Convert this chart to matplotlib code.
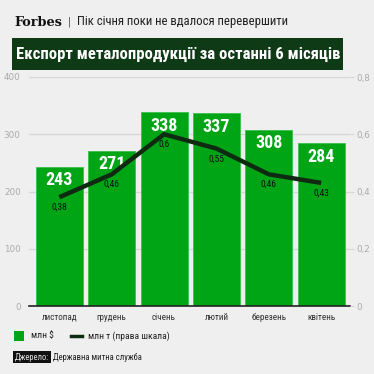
import matplotlib.pyplot as plt
from matplotlib.patches import Rectangle
from matplotlib.lines import Line2D

months = ["листопад", "грудень", "січень", "лютий", "березень", "квітень"]
usd = [243, 271, 338, 337, 308, 284]
tonnes = [0.38, 0.46, 0.6, 0.55, 0.46, 0.43]
left_ticks = [0, 100, 200, 300, 400]
right_ticks = [0, 0.2, 0.4, 0.6, 0.8]

BG = "#efefef"
GREEN = "#00a516"
DARK = "#0e2b12"
COND = ["Roboto Condensed", "Fira Sans Condensed", "DejaVu Sans"]

W = H = 374
fig = plt.figure(figsize=(3.74, 3.74), dpi=100, facecolor=BG)


def px(x, y):
    return x / W, 1 - y / H


# header
fig.text(*px(14, 22), "Forbes", family="DejaVu Serif", weight="bold",
         fontsize=9.3, va="center", color="#111")
fig.text(*px(68, 22), "|", fontsize=7, va="center", color="#444")
fig.text(*px(77, 22), "Пік січня поки не вдалося перевершити", family=COND,
         fontsize=9.2, va="center", color="#222")
fig.patches.append(Rectangle(px(12, 70), 331 / W, 32 / H, transform=fig.transFigure,
                             facecolor="#0f3a16", edgecolor="none"))
fig.text(*px(16, 54), "Експорт металопродукції за останні 6 місяців", family=COND,
         weight="bold", fontsize=12, va="center", color="white")

ax = fig.add_axes([29 / W, 1 - 306 / H, 321 / W, 229 / H])
ax.set_facecolor(BG)
x = range(len(months))
ax.bar(x, usd, width=0.9, color=GREEN, edgecolor="#3cc04a", linewidth=0.6, zorder=2)
for i, v in enumerate(usd):
    ax.text(i, v - 8, str(v), ha="center", va="top", color="white",
            family=COND, weight="bold", fontsize=13, zorder=5)
ax.set_xlim(-0.58, 5.55)
ax.set_ylim(0, 400)
ax.set_yticks(left_ticks)
ax.grid(axis="y", color="#d6d6d6", linewidth=1, zorder=0)
ax.tick_params(axis="y", length=0, labelsize=6.3, labelcolor="#aaaaaa", pad=6)
ax.set_xticks(list(x))
ax.set_xticklabels(months, family=COND, fontsize=6.6, color="#333")
ax.tick_params(axis="x", length=0, pad=5)
for s in ["top", "right", "left"]:
    ax.spines[s].set_visible(False)
ax.spines["bottom"].set_color("#222")
ax.spines["bottom"].set_linewidth(1.2)

ax2 = ax.twinx()
ax2.plot(list(x), tonnes, color=DARK, linewidth=3.2, solid_capstyle="butt", zorder=4)
for i, v in enumerate(tonnes):
    ax2.text(i, v - 0.02, f"{v:g}".replace(".", ","), ha="center", va="top",
             family=COND, fontsize=6.8, color="#111")
ax2.set_ylim(0, 0.8)
ax2.set_yticks(right_ticks)
ax2.set_yticklabels([f"{t:g}".replace(".", ",") for t in right_ticks])
ax2.tick_params(axis="y", length=3, color="#d6d6d6", labelsize=6.3,
                labelcolor="#aaaaaa", pad=1.5)
for s in ["top", "right", "left", "bottom"]:
    ax2.spines[s].set_visible(False)

# legend
fig.patches.append(Rectangle(px(14, 341), 10 / W, 10 / H, transform=fig.transFigure,
                             facecolor=GREEN, edgecolor="none"))
fig.text(*px(31, 336), "млн $", family=COND, fontsize=6.8, va="center", color="#222")
fig.lines.append(Line2D([71 / W, 82 / W], [1 - 336 / H] * 2, transform=fig.transFigure,
                        color=DARK, linewidth=2.5))
fig.text(*px(88, 336), "млн т (права шкала)", family=COND, fontsize=6.8,
         va="center", color="#222")

# source
fig.text(*px(15, 357), "Джерело:", family=COND, fontsize=6.2, va="center", color="#ddd",
         bbox=dict(facecolor="#111", edgecolor="none", pad=1.2))
fig.text(*px(53, 357), "Державна митна служба", family=COND, fontsize=6.2,
         va="center", color="#222")

fig.savefig("out.png", dpi=100, facecolor=BG)
